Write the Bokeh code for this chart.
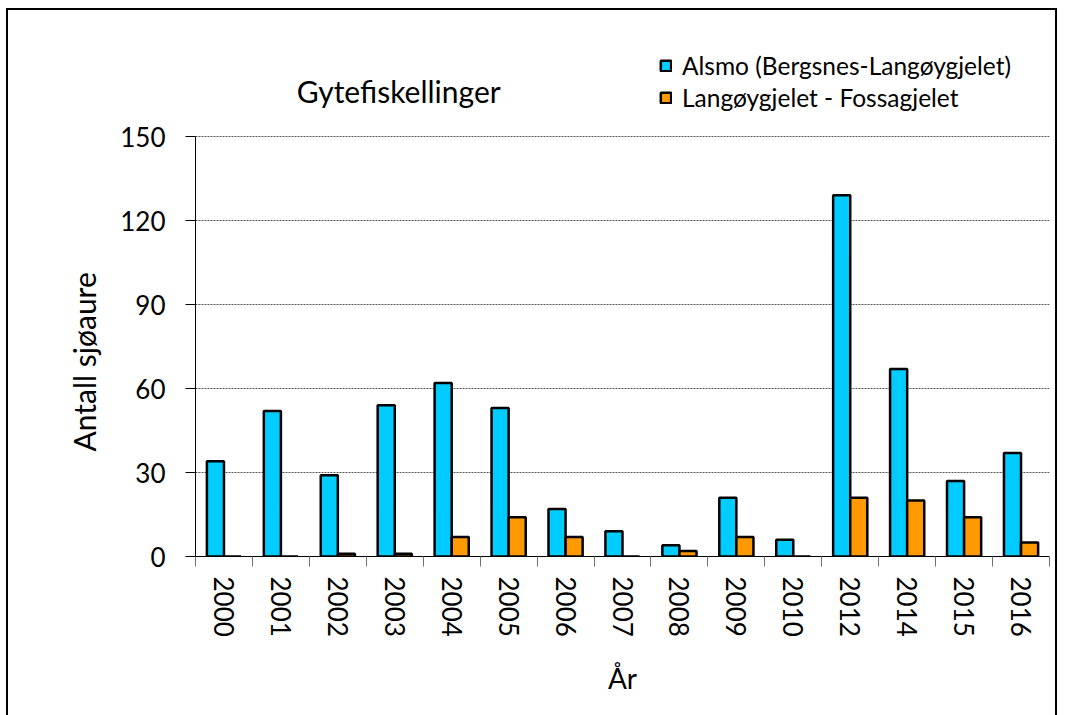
import math
from bokeh.plotting import figure
from bokeh.models import ColumnDataSource, Range1d, FixedTicker, Legend, LegendItem, Label, Title
from bokeh.transform import dodge
from bokeh.embed import file_html
from bokeh.resources import INLINE

years = ["2000", "2001", "2002", "2003", "2004", "2005", "2006", "2007",
         "2008", "2009", "2010", "2012", "2014", "2015", "2016"]
alsmo = [34, 52, 29, 54, 62, 53, 17, 9, 4, 21, 6, 129, 67, 27, 37]
fossagjelet = [0, 0, 1, 1, 7, 14, 7, 0, 2, 7, 0, 21, 20, 14, 5]
y_ticks = [0, 30, 60, 90, 120, 150]

FONT = "Lato"
n = len(years)
centers = [i + 0.5 for i in range(n)]
src = ColumnDataSource(dict(x=centers, year=years, alsmo=alsmo, fossa=fossagjelet))

# frame: page x 197..1049, y 20..557  (150 units = 420 px -> 2.8 px/unit)
y_top = 150 + (137 - 20) / 2.8

p = figure(width=1051, height=710, output_backend="svg", toolbar_location=None,
           x_range=Range1d(0, n), y_range=Range1d(0, y_top),
           min_border_left=187, min_border_right=10, min_border_top=9, min_border_bottom=164)
p.styles = {"border-left": "2px solid black", "border-top": "2px solid black",
            "border-right": "2px solid black", "border-bottom": "2px solid white",
            "margin-left": "6px", "margin-top": "8px"}
p.outline_line_color = None
p.background_fill_color = "white"
p.border_fill_color = "white"

r1 = p.vbar(x=dodge("x", -0.15, range=p.x_range), top="alsmo", width=0.3, source=src,
            fill_color="#00CCFF", line_color="black", line_width=2.5)
r2 = p.vbar(x=dodge("x", 0.15, range=p.x_range), top="fossa", width=0.3, source=src,
            fill_color="#FF9900", line_color="black", line_width=2.5)

# x axis
p.xaxis.ticker = FixedTicker(ticks=centers, minor_ticks=list(range(n + 1)))
p.xaxis.major_label_overrides = {c: y for c, y in zip(centers, years)}
p.xaxis.major_tick_line_color = None
p.xaxis.minor_tick_line_color = "#707070"
p.xaxis.minor_tick_out = 10
p.xaxis.minor_tick_in = 0
p.xaxis.major_label_orientation = -math.pi / 2
p.xaxis.major_label_standoff = 10
p.xaxis.major_label_text_font = FONT
p.xaxis.major_label_text_font_size = "26px"
p.xaxis.major_label_text_color = "black"
p.xaxis.axis_label = "År"
p.xaxis.axis_label_text_font = FONT
p.xaxis.axis_label_text_font_size = "28px"
p.xaxis.axis_label_text_font_style = "normal"
p.xaxis.axis_label_text_color = "black"
p.xaxis.axis_label_standoff = 21
p.xaxis.axis_line_color = "black"

# y axis
p.yaxis.ticker = FixedTicker(ticks=y_ticks)
p.yaxis.bounds = (0, 150)
p.yaxis.major_tick_out = 10
p.yaxis.major_tick_in = 0
p.yaxis.minor_tick_line_color = None
p.yaxis.major_tick_line_color = "black"
p.yaxis.major_label_standoff = 20
p.yaxis.major_label_text_font = FONT
p.yaxis.major_label_text_font_size = "26px"
p.yaxis.major_label_text_color = "black"
p.yaxis.axis_line_color = "black"

ytitle = Title(text="Antall sjøaure", align="left", offset=105, standoff=31,
               text_font=FONT, text_font_size="30px", text_font_style="normal",
               text_color="black")
p.add_layout(ytitle, "left")

p.xgrid.visible = False
p.ygrid.ticker = FixedTicker(ticks=y_ticks)
p.ygrid.grid_line_color = "#555555"
p.ygrid.grid_line_dash = "2 1"
p.ygrid.grid_line_width = 1

title = Label(x=3.57, y=150 + (137 - 91) / 2.8, text="Gytefiskellinger", text_font=FONT,
              text_font_size="30px", text_align="center", text_baseline="middle",
              text_color="black")
p.add_layout(title)

legend = Legend(items=[LegendItem(label="Alsmo (Bergsnes-Langøygjelet)", renderers=[r1]),
                       LegendItem(label="Langøygjelet - Fossagjelet", renderers=[r2])],
                location=(464, 444), label_text_font=FONT, label_text_font_size="24.5px",
                glyph_width=13, glyph_height=13, spacing=3, padding=2, margin=0,
                border_line_color=None, background_fill_alpha=0, label_standoff=10,
                label_text_color="black")
p.add_layout(legend, "center")

open("out.html", "w").write(file_html(p, INLINE))
